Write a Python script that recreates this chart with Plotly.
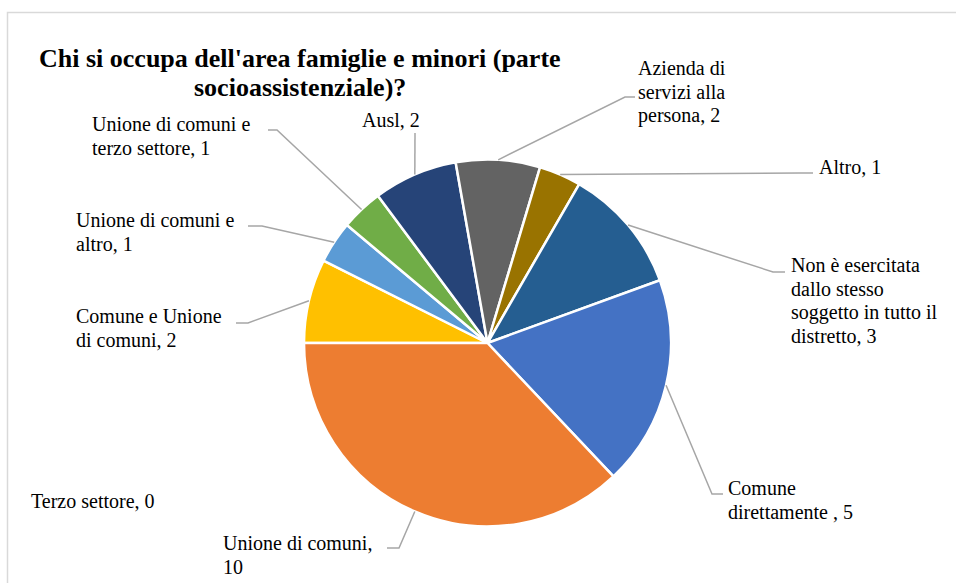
import math
import plotly.graph_objects as go

# ---- data (series order as drawn: clockwise from 9 o'clock) -------------
categories = [
    "Terzo settore",
    "Comune e Unione di comuni",
    "Unione di comuni e altro",
    "Unione di comuni e terzo settore",
    "Ausl",
    "Azienda di servizi alla persona",
    "Altro",
    "Non è esercitata dallo stesso soggetto in tutto il distretto",
    "Comune direttamente ",
    "Unione di comuni",
]
values = [0, 2, 1, 1, 2, 2, 1, 3, 5, 10]
colors = [
    "#9E480E", "#FFC000", "#5B9BD5", "#70AD47", "#264478",
    "#636363", "#997300", "#255E91", "#4472C4", "#ED7D31",
]
# wrapped data-label text; "{v}" is replaced by the slice value
label_lines = [
    ["Terzo settore, {v}"],
    ["Comune e Unione", "di comuni, {v}"],
    ["Unione di comuni e", "altro, {v}"],
    ["Unione di comuni e", "terzo settore, {v}"],
    ["Ausl, {v}"],
    ["Azienda di", "servizi alla", "persona, {v}"],
    ["Altro, {v}"],
    ["Non è esercitata", "dallo stesso", "soggetto in tutto il", "distretto, {v}"],
    ["Comune", "direttamente , {v}"],
    ["Unione di comuni,", "{v}"],
]
title_lines = ["Chi si occupa dell'area famiglie e minori (parte", "socioassistenziale)?"]

# ---- layout (pixels) ----------------------------------------------------
W, H = 956, 583
PIE_CX, PIE_CY, PIE_R = 487.5, 343.0, 183.5
START_DEG = 180.0          # first slice starts at 9 o'clock, runs clockwise
LABEL_FONT = 20
LINE_GAP = 23.7
SERIF = "Times New Roman, Liberation Serif, DejaVu Serif, serif"

# label placement: left edge, first baseline, leader elbow, leader end
label_pos = [
    dict(left=31, base=508, elbow=None, end=None),
    dict(left=76, base=323, elbow=(248, 323), end=(236, 323)),
    dict(left=76, base=227, elbow=(262, 226), end=(248, 226)),
    dict(left=92, base=131, elbow=(277, 130), end=(268, 130)),
    dict(left=362, base=127, elbow=(415, 133), end=(415, 133)),
    dict(left=638, base=75, elbow=(625, 97), end=(635, 97)),
    dict(left=819, base=174, elbow=(800, 173), end=(813, 173)),
    dict(left=791, base=272, elbow=(773, 272), end=(785, 272)),
    dict(left=728, base=495, elbow=(712, 494), end=(723, 494)),
    dict(left=223, base=550, elbow=(399, 548), end=(387, 548)),
]


def px(x):
    return x / W


def py(y):
    return 1 - y / H


fig = go.Figure(
    go.Pie(
        labels=categories,
        values=values,
        sort=False,
        direction="clockwise",
        rotation=270,
        marker=dict(colors=colors, line=dict(color="#FFFFFF", width=2.5)),
        textinfo="none",
        hoverinfo="label+value",
        showlegend=False,
        domain=dict(
            x=[px(PIE_CX - PIE_R), px(PIE_CX + PIE_R)],
            y=[py(PIE_CY + PIE_R), py(PIE_CY - PIE_R)],
        ),
    )
)

annotations = []
shapes = []

# chart-area frame
shapes.append(dict(
    type="rect", xref="paper", yref="paper",
    x0=px(7.5), x1=px(W + 5), y0=py(H + 5), y1=py(12.5),
    line=dict(color="#D9D9D9", width=1.5), fillcolor="rgba(0,0,0,0)", layer="below",
))

# title
for i, t in enumerate(title_lines):
    base = 67 + i * 29
    annotations.append(dict(
        text=f"<b>{t}</b>", xref="paper", yref="paper",
        x=px(300), y=py(base - 0.3375 * 26), xanchor="center", yanchor="middle",
        showarrow=False, borderpad=0, borderwidth=0,
        font=dict(family=SERIF, size=26, color="#000000"),
    ))

total = sum(values)
cum = 0
for name, v, lines, pos in zip(categories, values, label_lines, label_pos):
    mid = math.radians(START_DEG - (cum + v / 2) / total * 360)
    cum += v
    sx = PIE_CX + PIE_R * math.cos(mid)
    sy = PIE_CY - PIE_R * math.sin(mid)
    for j, ln in enumerate(lines):
        base = pos["base"] + j * LINE_GAP
        annotations.append(dict(
            text=ln.format(v=v), xref="paper", yref="paper",
            x=px(pos["left"]), y=py(base - 0.3375 * LABEL_FONT),
            xanchor="left", yanchor="middle", showarrow=False,
            borderpad=0, borderwidth=0,
            font=dict(family=SERIF, size=LABEL_FONT, color="#000000"),
        ))
    if pos["elbow"] is not None and v > 0:
        ex, ey = pos["elbow"]
        nx, ny = pos["end"]
        path = f"M {px(sx)},{py(sy)} L {px(ex)},{py(ey)} L {px(nx)},{py(ny)}"
        shapes.append(dict(
            type="path", xref="paper", yref="paper", path=path,
            line=dict(color="#A6A6A6", width=1.5),
        ))

fig.update_layout(
    width=W, height=H,
    margin=dict(l=0, r=0, t=0, b=0),
    paper_bgcolor="#FFFFFF",
    plot_bgcolor="#FFFFFF",
    annotations=annotations,
    shapes=shapes,
)

fig.write_html("out.html")
